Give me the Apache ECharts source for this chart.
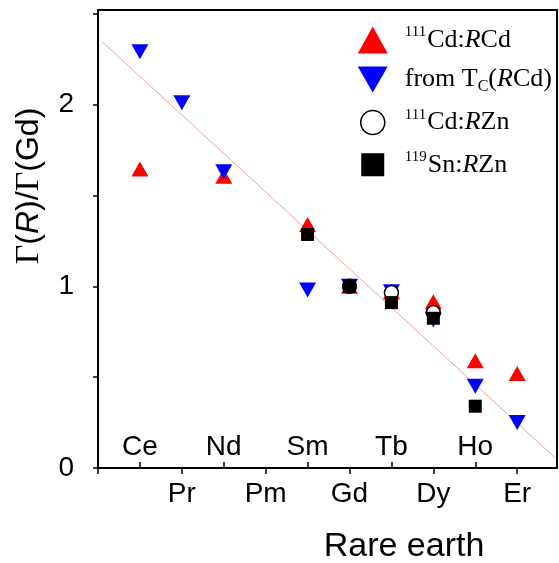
<!DOCTYPE html>
<html>
<head>
<meta charset="utf-8">
<script src="https://cdn.jsdelivr.net/npm/echarts@6/dist/echarts.min.js"></script>
<style>html,body{margin:0;padding:0;background:#fff}#c{width:559px;height:563px}</style>
</head>
<body>
<div id="c"></div>
<script>
// Categories (rare earths, in plotted order; Eu omitted)
const categories = ['Ce','Pr','Nd','Pm','Sm','Gd','Tb','Dy','Ho','Er'];
// Series values, by category name
const cdRCd   = {Ce:1.645, Nd:1.605, Sm:1.34, Gd:1.00, Tb:0.97, Dy:0.915, Ho:0.59, Er:0.52};
const tcRCd   = {Ce:2.29, Pr:2.01, Nd:1.63, Sm:0.98, Gd:1.00, Tb:0.97, Dy:0.815, Ho:0.45, Er:0.25};
const cdRZn   = {Gd:1.00, Tb:0.965, Dy:0.855};
const snRZn   = {Sm:1.285, Gd:1.00, Tb:0.91, Dy:0.824, Ho:0.34};
// Guide line end points [x position, value]
const guideLine = [[0.11, 2.343], [10.91, 0.055]];
// Tick labels
const yTickLabels = [0, 1, 2];
const yTicks = [0, 0.5, 1, 1.5, 2, 2.5];

function toPairs(obj){
  return categories.filter(c => c in obj).map(c => [categories.indexOf(c) + 1, obj[c]]);
}
const posAll = categories.map((c,i)=>i+1);
const posLow = posAll.filter(v => v % 2 === 0);
const posUp = posAll.filter(v => v % 2 === 1);

const SANS = 'Liberation Sans, Arial, sans-serif';
const SERIF = 'Liberation Serif, Times New Roman, serif';
const downTri = 'path://M0,0 L18,0 L9,15 Z';

const legRich = {
  n: {fontFamily: SERIF, fontSize: 26, color: '#000', lineHeight: 30},
  i: {fontFamily: SERIF, fontSize: 26, fontStyle: 'italic', color: '#000', lineHeight: 30},
  sup: {fontFamily: SERIF, fontSize: 15, color: '#000', lineHeight: 14, verticalAlign: 'top', padding:[0,1,0,0]},
  sub: {fontFamily: SERIF, fontSize: 16, color: '#000', lineHeight: 12, verticalAlign: 'bottom'}
};
const legendText = {
  'cdRCd': '{sup|111}{n|Cd:}{i|R}{n|Cd}',
  'tcRCd': '{n|from T}{sub|C}{n|(}{i|R}{n|Cd)}',
  'cdRZn': '{sup|111}{n|Cd:}{i|R}{n|Zn}',
  'snRZn': '{sup|119}{n|Sn:}{i|R}{n|Zn}'
};

const xBase = {
  type: 'value', min: 0, max: 10.95, position: 'bottom',
  splitLine: {show: false}
};

const option = {
  animation: false,
  backgroundColor: '#fff',
  grid: {left: 98, right: 2, top: 10, bottom: 95, show: true, borderColor: '#000', borderWidth: 2, backgroundColor: 'transparent'},
  legend: {
    orient: 'vertical', left: 352, top: 20, itemGap: 13,
    itemWidth: 30, itemHeight: 27,
    data: [
      {name: 'cdRCd', icon: 'triangle', itemStyle: {color: '#ff0000', opacity: 1}},
      {name: 'tcRCd', icon: 'path://M0,0 L30,0 L15,26 Z', itemStyle: {color: '#0000ff', opacity: 1}},
      {name: 'cdRZn', icon: 'path://M0,0 M30,27 M15,1.5 A12,12 0 1 1 14.99,1.5 Z', itemStyle:{color:'#fff', borderColor:'#000', borderWidth:1.5, opacity: 1}},
      {name: 'snRZn', icon: 'path://M0,0 M30,27 M3.5,2 L26.5,2 L26.5,25 L3.5,25 Z', itemStyle: {color: '#000', opacity: 1}}
    ],
    formatter: n => legendText[n],
    textStyle: {rich: legRich, padding: [0,0,0,12]}
  },
  xAxis: [
    Object.assign({}, xBase, {
      axisLine: {show: true, lineStyle: {color: '#000', width: 2}},
      axisTick: {show: true, inside: false, length: 6, lineStyle: {color:'#000', width: 1.5}, customValues: [0].concat(posLow)},
      axisLabel: {show: true, inside: false, margin: 12, fontFamily: SANS, fontSize: 28, color: '#000',
        customValues: posLow, formatter: v => categories[Math.round(v)-1] || ''}
    }),
    Object.assign({}, xBase, {
      axisLine: {show: false},
      axisTick: {show: true, inside: true, length: 6, lineStyle: {color:'#000', width: 1.5}, customValues: posUp},
      axisLabel: {show: true, inside: true, margin: 7, fontFamily: SANS, fontSize: 28, color: '#000',
        customValues: posUp, formatter: v => categories[Math.round(v)-1] || ''}
    })
  ],
  yAxis: {
    type: 'value', min: 0, max: 2.52,
    splitLine: {show: false},
    axisLine: {show: true, lineStyle: {color: '#000', width: 2}},
    axisTick: {show: true, length: 5, lineStyle: {color:'#000', width: 1.5}, customValues: yTicks},
    axisLabel: {margin: 24, fontFamily: SANS, fontSize: 28, color: '#000', customValues: yTickLabels, formatter: v => String(v)}
  },
  graphic: [
    {type: 'text', x: 404, y: 547, style: {text: 'Rare earth', fontFamily: SANS, fontSize: 34, fill: '#000', align: 'center', verticalAlign: 'middle'}},
    {type: 'text', x: 29, y: 186, rotation: Math.PI/2,
      style: {
        text: '{g|Γ}{s|(}{i|R}{s|)/}{g|Γ}{s|(Gd)}',
        align: 'center', verticalAlign: 'middle',
        rich: {
          g: {fontFamily: SERIF, fontSize: 34, fill: '#000'},
          s: {fontFamily: SANS, fontSize: 32, fill: '#000'},
          i: {fontFamily: SANS, fontSize: 32, fontStyle: 'italic', fill: '#000'}
        }
      }}
  ],
  series: [
    {name: 'guide', type: 'line', data: guideLine, symbol: 'none', silent: true,
      lineStyle: {color: '#f7a1a1', width: 1}, z: 1, legendHoverLink: false},
    {name: 'cdRCd', type: 'scatter', data: toPairs(cdRCd), symbol: 'triangle', symbolSize: [17, 15],
      itemStyle: {color: '#ff0000', opacity: 1}, z: 2},
    {name: 'tcRCd', type: 'scatter', data: toPairs(tcRCd), symbol: downTri, symbolSize: [17, 15], symbolKeepAspect: false,
      itemStyle: {color: '#0000ff', opacity: 1}, z: 3},
    {name: 'cdRZn', type: 'scatter', data: toPairs(cdRZn), symbol: 'circle', symbolSize: 14,
      itemStyle: {color: '#fff', borderColor: '#000', borderWidth: 1.5, opacity: 1}, z: 4},
    {name: 'snRZn', type: 'scatter', data: toPairs(snRZn), symbol: 'rect', symbolSize: 13,
      itemStyle: {color: '#000', opacity: 1}, z: 5}
  ]
};
const chart = echarts.init(document.getElementById('c'), null, {renderer: 'canvas'});
chart.setOption(option);
</script>
</body>
</html>
